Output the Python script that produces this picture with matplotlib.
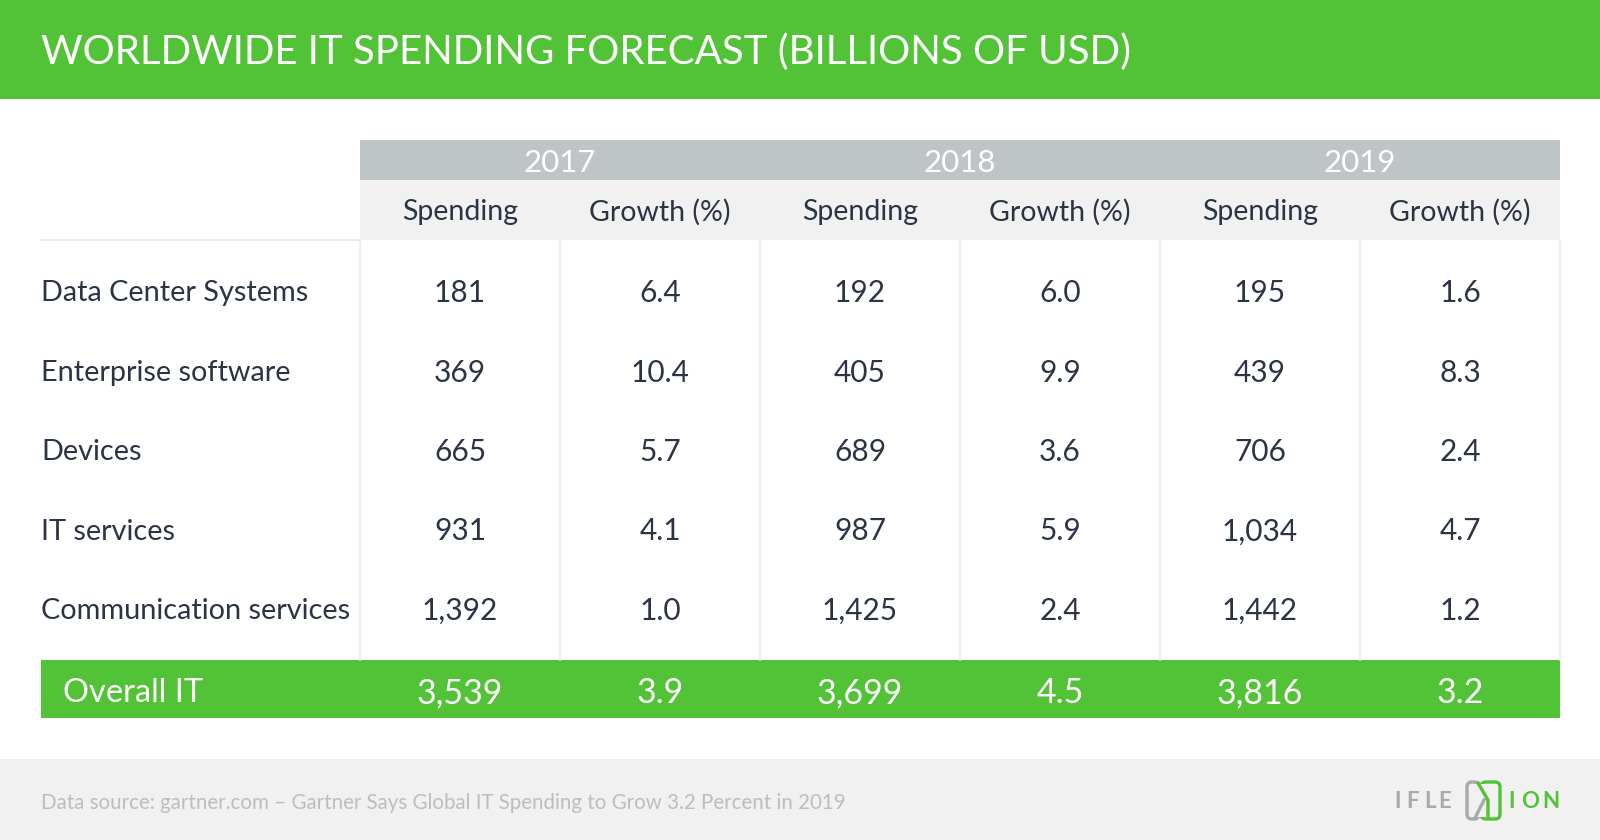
import matplotlib
matplotlib.use("Agg")
import matplotlib.pyplot as plt
from matplotlib.patches import Rectangle, FancyBboxPatch

title = "WORLDWIDE IT SPENDING FORECAST (BILLIONS OF USD)"
years = ["2017", "2018", "2019"]
subheaders = ["Spending", "Growth (%)"]
categories = ["Data Center Systems", "Enterprise software", "Devices",
              "IT services", "Communication services"]
spending_2017 = [181, 369, 665, 931, 1392]
growth_2017 = [6.4, 10.4, 5.7, 4.1, 1.0]
spending_2018 = [192, 405, 689, 987, 1425]
growth_2018 = [6.0, 9.9, 3.6, 5.9, 2.4]
spending_2019 = [195, 439, 706, 1034, 1442]
growth_2019 = [1.6, 8.3, 2.4, 4.7, 1.2]
total_label = "Overall IT"
total_spending = [3539, 3699, 3816]
total_growth = [3.9, 4.5, 3.2]
source = "Data source: gartner.com \u2013 Gartner Says Global IT Spending to Grow 3.2 Percent in 2019"

GREEN = "#52C237"
GREYBAND = "#BFC4C7"
LIGHT = "#F1F1F1"
DARK = "#2B3445"
LINE = "#EBEBEB"
FONT = ["Lato", "DejaVu Sans"]

fig = plt.figure(figsize=(16, 8.4), dpi=100)
ax = fig.add_axes([0, 0, 1, 1])
ax.set_xlim(0, 1600)
ax.set_ylim(840, 0)
ax.axis("off")

# header
ax.add_patch(Rectangle((0, 0), 1600, 99, color=GREEN, lw=0))
ax.text(41, 52, title, color="white", fontsize=29, fontweight="normal",
        family=FONT, va="center", ha="left")

x0, colw = 360, 200
ncol = 6
# year band
ax.add_patch(Rectangle((x0, 140), colw * ncol, 40, color=GREYBAND, lw=0))
for i, y in enumerate(years):
    ax.text(x0 + colw * (2 * i + 1), 163, y, color="white", fontsize=22.5,
            family=FONT, ha="center", va="center")
# sub header
ax.add_patch(Rectangle((x0, 180), colw * ncol, 60, color=LIGHT, lw=0))
for i in range(ncol):
    ax.text(x0 + colw * i + colw / 2, 212, subheaders[i % 2], color=DARK,
            fontsize=20.5, family=FONT, ha="center", va="center")

ax.plot([41, x0], [240, 240], color=LINE, lw=1.5)
for k in range(ncol + 1):
    ax.plot([x0 + colw * k, x0 + colw * k], [240, 660], color=LINE, lw=1.2)

columns = [spending_2017, growth_2017, spending_2018, growth_2018,
           spending_2019, growth_2019]
row_y0, row_h = 293, 79.5
for r, cat in enumerate(categories):
    yy = row_y0 + r * row_h
    ax.text(41, yy, cat, color=DARK, fontsize=20.8, family=FONT,
            ha="left", va="center")
    for c, col in enumerate(columns):
        v = col[r]
        s = f"{v:,}" if c % 2 == 0 else f"{v:.1f}"
        ax.text(x0 + colw * c + colw / 2, yy, s, color=DARK, fontsize=21.5,
                family=FONT, ha="center", va="center")

# total row
ax.add_patch(Rectangle((41, 660), x0 + colw * ncol - 41, 58, color=GREEN, lw=0))
ax.text(63, 693, total_label, color="white", fontsize=23.5, family=FONT,
        ha="left", va="center")
for i in range(3):
    ax.text(x0 + colw * (2 * i) + colw / 2, 693, f"{total_spending[i]:,}",
            color="white", fontsize=24.5, family=FONT, ha="center", va="center")
    ax.text(x0 + colw * (2 * i + 1) + colw / 2, 693, f"{total_growth[i]:.1f}",
            color="white", fontsize=24.5, family=FONT, ha="center", va="center")

# footer
ax.add_patch(Rectangle((0, 759), 1600, 81, color=LIGHT, lw=0))
ax.text(41, 803, source, color="#BDBDBD", fontsize=14.8, family=FONT,
        ha="left", va="center")

# logo
LGREY = "#A7AAAD"
for xc, ch in zip([1398, 1412, 1430, 1445], "IFLE"):
    ax.text(xc, 801, ch, color=LGREY, fontsize=16,
            fontweight="bold", family=FONT, ha="center", va="center")
ax.add_patch(FancyBboxPatch((1467, 782), 12, 37,
                            boxstyle="round,pad=0,rounding_size=5",
                            fill=False, ec=LGREY, lw=2.4))
ax.add_patch(FancyBboxPatch((1481, 782), 19, 37,
                            boxstyle="round,pad=0,rounding_size=5",
                            fill=False, ec=GREEN, lw=2.4))
ax.add_patch(Rectangle((1475, 784), 10, 33, color=LIGHT, lw=0))
ax.plot([1475, 1484], [818, 800], color=LGREY, lw=2.4)
ax.plot([1478, 1488, 1488], [783, 800, 818], color=GREEN, lw=2.4)
for xc, ch in zip([1511, 1530, 1551], "ION"):
    ax.text(xc, 801, ch, color=GREEN, fontsize=16,
            fontweight="bold", family=FONT, ha="center", va="center")

fig.savefig("out.png", dpi=100)
